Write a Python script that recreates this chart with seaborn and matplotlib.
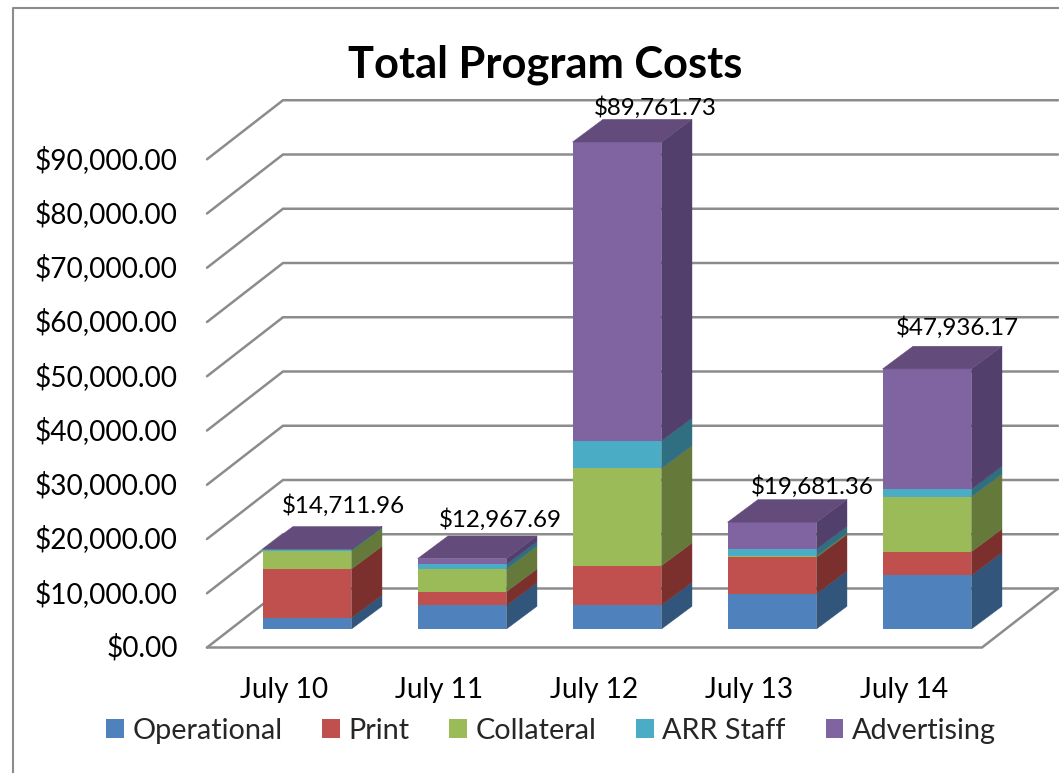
import matplotlib
matplotlib.use("Agg")
import matplotlib.pyplot as plt
from matplotlib.lines import Line2D
from matplotlib.patches import Polygon
from matplotlib.transforms import Affine2D
import numpy as np
import seaborn as sns

days = ["July 10", "July 11", "July 12", "July 13", "July 14"]
series = ["Operational", "Print", "Collateral", "ARR Staff", "Advertising"]
operational = [2080, 4370, 4420, 6510, 9890]
print_costs = [8980, 2510, 7250, 6700, 4360]
collateral = [3370, 4180, 17940, 240, 10140]
arr_staff = [270, 860, 5090, 1290, 1410]
advertising = [11.96, 1047.69, 55061.73, 4941.36, 22136.17]
y_ticks = list(range(0, 100000, 10000))

front_colors = ["#4F81BD", "#C0504D", "#9BBB59", "#4BACC6", "#8064A2"]
side_colors = ["#32557C", "#7B302E", "#65793A", "#2F6F81", "#533F6C"]
top_color = "#634C7C"
grid_color = "#8C8C8C"

W, H = 1059, 773
PX_CAT = 155.0
PX_VAL = 54.25 / 10000
LEFT, FLOOR = 207, 647.5

sns.set_theme(style="white")
plt.rcParams["font.family"] = ["Lato", "DejaVu Sans"]

fig = plt.figure(figsize=(W / 100, H / 100), dpi=100)
ax = fig.add_axes([LEFT / W, (H - FLOOR) / H, 775 / W, 542.5 / H])

# walls and floor sit behind the bars, depth given in data units
back_x = 76 / PX_CAT
back_y = 59 / PX_VAL
for v in y_ticks:
    ax.plot([-0.5, -0.5 + back_x, 4.5 + back_x], [v, v + back_y, v + back_y],
            color=grid_color, lw=1.8, clip_on=False, zorder=1, solid_joinstyle="miter")
ax.plot([-0.5, 4.5, 4.5 + back_x], [0, 0, back_y],
        color=grid_color, lw=1.8, clip_on=False, zorder=1, solid_joinstyle="miter")

# bars stand a little way into the floor
shift = ax.transData + Affine2D().translate(22.5, 18.5)
depth_x = 30.5 / PX_CAT
depth_y = 22.7 / PX_VAL
bar_w = 0.574

bottoms = np.zeros(len(days))
handles = []
for name, vals, fc, sc in zip(series, [operational, print_costs, collateral, arr_staff, advertising],
                              front_colors, side_colors):
    sns.barplot(x=days, y=vals, bottom=bottoms, color=fc, saturation=1, width=bar_w,
                linewidth=0, ax=ax, zorder=3)
    cont = ax.containers[-1]
    handles.append(cont[0])
    for i, bar in enumerate(cont):
        bar.set_transform(shift)
        bar.set_clip_on(False)
        x1 = i + bar_w / 2
        b, t = bottoms[i], bottoms[i] + vals[i]
        ax.add_patch(Polygon([(x1, b), (x1 + depth_x, b + depth_y), (x1 + depth_x, t + depth_y), (x1, t)],
                             closed=True, fc=sc, ec=sc, lw=0.3, transform=shift, clip_on=False, zorder=3))
    bottoms = bottoms + np.array(vals)

totals = bottoms
label_dx = [36, 38, 38, 40, 30]
label_dy = [44, 39, 35, 36, 41]
for i, total in enumerate(totals):
    x0, x1 = i - bar_w / 2, i + bar_w / 2
    ax.add_patch(Polygon([(x0, total), (x1, total), (x1 + depth_x, total + depth_y), (x0 + depth_x, total + depth_y)],
                         closed=True, fc=top_color, ec=top_color, lw=0.3, transform=shift, clip_on=False, zorder=3))
    # labels are placed by eye in pixels above each bar's front top edge
    ax.annotate(f"${total:,.2f}", xy=(i, total), xycoords=shift,
                xytext=(label_dx[i] * 0.72, label_dy[i] * 0.72),
                textcoords="offset points", ha="center", va="center", fontsize=17.4, color="black", zorder=5)

ax.set_xlim(-0.5, 4.5)
ax.set_ylim(0, 100000)
ax.set_yticks(y_ticks)
ax.set_yticklabels([f"${v:,.2f}" for v in y_ticks])
ax.set_xlabel("")
ax.set_ylabel("")
ax.tick_params(axis="y", length=0, pad=21, labelsize=20.2, labelcolor="black")
ax.tick_params(axis="x", length=0, pad=21, labelsize=20.2, labelcolor="black")
for lab in ax.get_yticklabels():
    lab.set_transform(lab.get_transform() + Affine2D().translate(0, 2))
ax.patch.set_visible(False)
sns.despine(ax=ax, left=True, bottom=True)

fig.text(545 / W, 1 - 65 / H, "Total Program Costs", ha="center", va="center",
         fontsize=31.2, fontweight="bold", color="black")

fig.legend(handles, series, loc="center", bbox_to_anchor=(551 / W, 1 - 731 / H), ncol=5, frameon=False,
           fontsize=20.8, handlelength=0.62, handleheight=0.62, handletextpad=0.28, columnspacing=1.38,
           borderpad=0, borderaxespad=0)

# chart frame, open at the right and bottom
fig.add_artist(Line2D([12.5 / W, 12.5 / W, 1], [0, 1 - 7.7 / H, 1 - 7.7 / H], color=grid_color, lw=1.5))

fig.savefig("out.png", dpi=100)
